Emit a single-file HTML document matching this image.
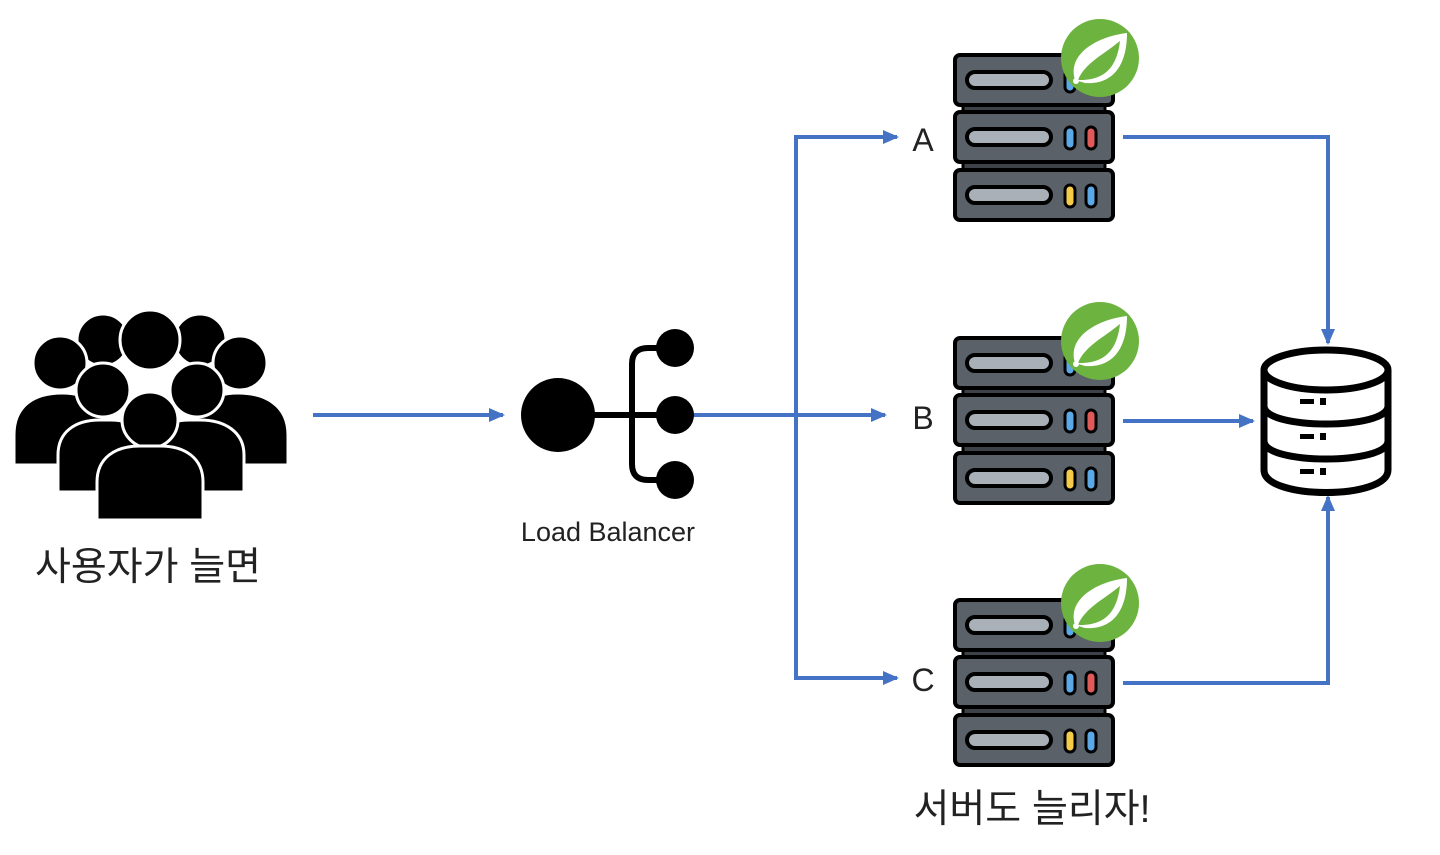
<!DOCTYPE html>
<html><head><meta charset="utf-8"><style>
body{margin:0;background:#fff;width:1440px;height:850px;overflow:hidden}
text{font-family:"Liberation Sans","Noto Sans CJK KR",sans-serif}
</style></head><body>
<svg width="1440" height="850" viewBox="0 0 1440 850" xmlns="http://www.w3.org/2000/svg">
<defs>
<marker id="a2" markerWidth="16" markerHeight="14" refX="14" refY="7" orient="auto" markerUnits="userSpaceOnUse" viewBox="0 0 16 14"><path d="M0,0 L16,7 L0,14 Z" fill="#4472C4"/></marker>
<g id="unit">
<rect x="0" y="0" width="158" height="50" rx="5" fill="#5a6168" stroke="#000" stroke-width="4"/>
<rect x="12" y="17" width="84" height="16" rx="8" fill="#a9b0b8" stroke="#000" stroke-width="4"/>
</g>
<g id="srv">
<rect x="8" y="48" width="142" height="12" fill="#3c4248" stroke="#000" stroke-width="3"/>
<rect x="8" y="106" width="142" height="12" fill="#3c4248" stroke="#000" stroke-width="3"/>
<use href="#unit" y="0"/>
<use href="#unit" y="57"/>
<use href="#unit" y="115"/>
<rect x="110" y="15" width="10" height="22" rx="5" fill="#5aa9e6" stroke="#000" stroke-width="3"/>
<rect x="110" y="72" width="10" height="22" rx="5" fill="#5aa9e6" stroke="#000" stroke-width="3"/>
<rect x="131" y="72" width="10" height="22" rx="5" fill="#e05a5a" stroke="#000" stroke-width="3"/>
<rect x="110" y="130" width="10" height="22" rx="5" fill="#f5cc4a" stroke="#000" stroke-width="3"/>
<rect x="131" y="130" width="10" height="22" rx="5" fill="#5aa9e6" stroke="#000" stroke-width="3"/>
<circle cx="145" cy="3" r="39" fill="#6db33f"/>
<path d="M120,25 C112,0 140,-18 172,-22 C172,10 158,30 130,28 Z" fill="#fff"/>
<path d="M123,25 C130,8 148,0 165,-14 C162,12 150,24 128,25 Z" fill="#6db33f"/>
<circle cx="121" cy="26" r="3" fill="#fff"/>
</g>
</defs>

<!-- users -->
<g fill="#000" stroke="#fff" stroke-width="3">
<circle cx="103" cy="340" r="26"/><circle cx="200" cy="340" r="26"/>
<circle cx="150" cy="340" r="30"/>
<circle cx="60" cy="363" r="27"/><circle cx="240" cy="363" r="27"/>
<path d="M14,465 L14,435 C14,405 35,393 62,393 C88,393 105,405 105,435 L105,465 Z"/>
<path d="M195,465 L195,435 C195,405 212,393 238,393 C265,393 288,405 288,435 L288,465 Z"/>
<circle cx="103" cy="390" r="27"/><circle cx="197" cy="390" r="27"/>
<path d="M58,492 L58,455 C58,432 75,420 100,420 L110,420 C135,420 152,432 152,455 L152,492 Z"/>
<path d="M148,492 L148,455 C148,432 165,420 190,420 L200,420 C225,420 244,432 244,455 L244,492 Z"/>
<circle cx="150" cy="420" r="28"/>
<path d="M97,520 L97,482 C97,458 115,446 140,446 L160,446 C185,446 203,458 203,482 L203,520 Z"/>
</g>
<text x="148" y="580" font-size="39" text-anchor="middle" fill="#222">사용자가 늘면</text>

<!-- arrows -->
<g stroke="#4472C4" stroke-width="4" fill="none">
<line x1="313" y1="415" x2="503" y2="415" marker-end="url(#a2)"/>
<line x1="690" y1="415" x2="885" y2="415" marker-end="url(#a2)"/>
<polyline points="897,137 796,137 796,678 897,678"/>
<line x1="880" y1="137" x2="897" y2="137" marker-end="url(#a2)"/>
<line x1="880" y1="678" x2="897" y2="678" marker-end="url(#a2)"/>
<polyline points="1123,137 1328,137 1328,343" marker-end="url(#a2)"/>
<line x1="1123" y1="421" x2="1253" y2="421" marker-end="url(#a2)"/>
<polyline points="1123,683 1328,683 1328,497" marker-end="url(#a2)"/>
</g>

<!-- load balancer -->
<g fill="#000">
<circle cx="558" cy="415" r="37"/>
<circle cx="675" cy="348" r="19"/><circle cx="675" cy="415" r="19"/><circle cx="675" cy="480" r="19"/>
</g>
<g stroke="#000" stroke-width="6" fill="none">
<line x1="590" y1="415" x2="675" y2="415"/>
<path d="M675,348 L648,348 Q632,348 632,364 L632,464 Q632,480 648,480 L675,480"/>
</g>
<text x="608" y="541" font-size="27" text-anchor="middle" fill="#222">Load Balancer</text>

<!-- labels -->
<text x="923" y="151" font-size="32" text-anchor="middle" fill="#222">A</text>
<text x="923" y="429" font-size="32" text-anchor="middle" fill="#222">B</text>
<text x="923" y="691" font-size="32" text-anchor="middle" fill="#222">C</text>

<!-- servers -->
<use href="#srv" x="955" y="55"/>
<use href="#srv" x="955" y="338"/>
<use href="#srv" x="955" y="600"/>
<text x="1032" y="822" font-size="39" text-anchor="middle" fill="#222">서버도 늘리자!</text>

<!-- database -->
<g stroke="#000" stroke-width="7" fill="#fff">
<path d="M1264,370 L1264,470 C1264,500 1388,500 1388,470 L1388,370"/>
<path d="M1264,406 C1264,430 1388,430 1388,406"/>
<path d="M1264,441 C1264,465 1388,465 1388,441"/>
<ellipse cx="1326" cy="370" rx="62" ry="20"/>
</g>
<g fill="#000">
<rect x="1300" y="399" width="14" height="5"/><rect x="1320" y="398" width="6" height="7"/>
<rect x="1300" y="434" width="14" height="5"/><rect x="1320" y="433" width="6" height="7"/>
<rect x="1300" y="469" width="14" height="5"/><rect x="1320" y="468" width="6" height="7"/>
</g>
</svg>
</body></html>
